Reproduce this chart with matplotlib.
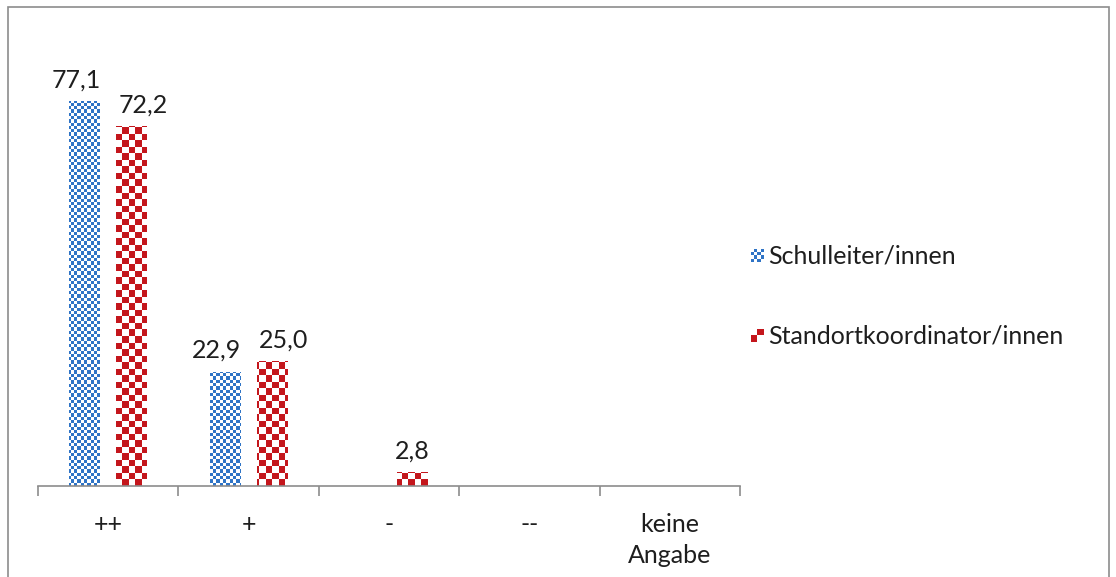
import numpy as np
import matplotlib
matplotlib.use("Agg")
import matplotlib.pyplot as plt
from matplotlib.patches import Rectangle
from matplotlib.colors import ListedColormap

plt.rcParams['font.family'] = ['Lato', 'DejaVu Sans']

categories = ['++', '+', '-', '--', 'keine\nAngabe']
series_names = ['Schulleiter/innen', 'Standortkoordinator/innen']
schulleiter = [77.1, 22.9, 0, 0, 0]
standort = [72.2, 25.0, 2.8, 0, 0]

blue = '#2f74c6'
red = '#c4161c'
text_color = '#1e1e1e'
fsize = 18

W, H, DPI = 1116, 577, 100
fig = plt.figure(figsize=(W / DPI, H / DPI), dpi=DPI)
ax_left, ax_right, ax_bottom, ax_top = 38, 740, 486, 37
ax = fig.add_axes([ax_left / W, 1 - ax_bottom / H, (ax_right - ax_left) / W, (ax_bottom - ax_top) / H])

x = np.arange(len(categories))
ymax = 90
ax.set_xlim(-0.5, len(categories) - 0.5)
ax.set_ylim(0, ymax)


def checker(cell_px, color):
    nx = int(round((ax_right - ax_left) / cell_px))
    ny = int(round((ax_bottom - ax_top) / cell_px))
    arr = (np.indices((ny, nx)).sum(axis=0) % 2)
    cmap = ListedColormap(['white', color])
    return arr, cmap


def pattern_bars(xs, vals, other, color, cell_px, nudge):
    bars = ax.bar(xs, vals, width=0.22, color='none', linewidth=0)
    arr, cmap = checker(cell_px, color)
    for b in bars:
        im = ax.imshow(arr, cmap=cmap, extent=[-0.5, len(categories) - 0.5, 0, ymax],
                       origin='lower', aspect='auto', interpolation='nearest')
        im.set_clip_path(b)
    for xi, v, o in zip(xs, vals, other):
        if v > 0:
            # labels get pushed apart when both bars of a group have one
            dx = nudge if o > 0 else 0
            ax.annotate(f'{v:.1f}'.replace('.', ','), (xi, v), xytext=(dx, 7),
                        textcoords='offset points', ha='center', va='bottom',
                        fontsize=fsize, color=text_color)


pattern_bars(x - 0.168, schulleiter, standort, blue, 3.3, -6)
pattern_bars(x + 0.168, standort, schulleiter, red, 6.5, 8)

ax.set_xlim(-0.5, len(categories) - 0.5)
ax.set_ylim(0, ymax)

for s in ['top', 'right', 'left']:
    ax.spines[s].set_visible(False)
ax.spines['bottom'].set_color('#8c8c8c')
ax.spines['bottom'].set_linewidth(1.2)
ax.set_yticks([])
ax.set_xticks(np.arange(len(categories) + 1) - 0.5)
ax.set_xticklabels([])
ax.tick_params(axis='x', length=7, color='#8c8c8c', width=1.2)
for xi, lab in zip(x, categories):
    ax.text(xi, -0.06, lab, transform=ax.get_xaxis_transform(), ha='center', va='top',
            fontsize=fsize, color=text_color, linespacing=1.4)

# legend drawn by hand with checker swatches
legend_y = [256, 336]
for name, color, n, ly in zip(series_names, [blue, red], [4, 2], legend_y):
    sw = fig.add_axes([751 / W, 1 - (ly + 6) / H, 13 / W, 13 / H])
    arr = (np.indices((n, n)).sum(axis=0) % 2)
    sw.imshow(arr, cmap=ListedColormap(['white', color]), interpolation='nearest', aspect='auto')
    sw.axis('off')
    fig.text(768 / W, 1 - ly / H, name, ha='left', va='center', fontsize=fsize, color=text_color)

fig.add_artist(Rectangle((8 / W, -0.05), 1101 / W, 1.05 - 7 / H, transform=fig.transFigure,
                         fill=False, edgecolor='#8c8c8c', linewidth=1.2))

fig.savefig('out.png', dpi=DPI)
